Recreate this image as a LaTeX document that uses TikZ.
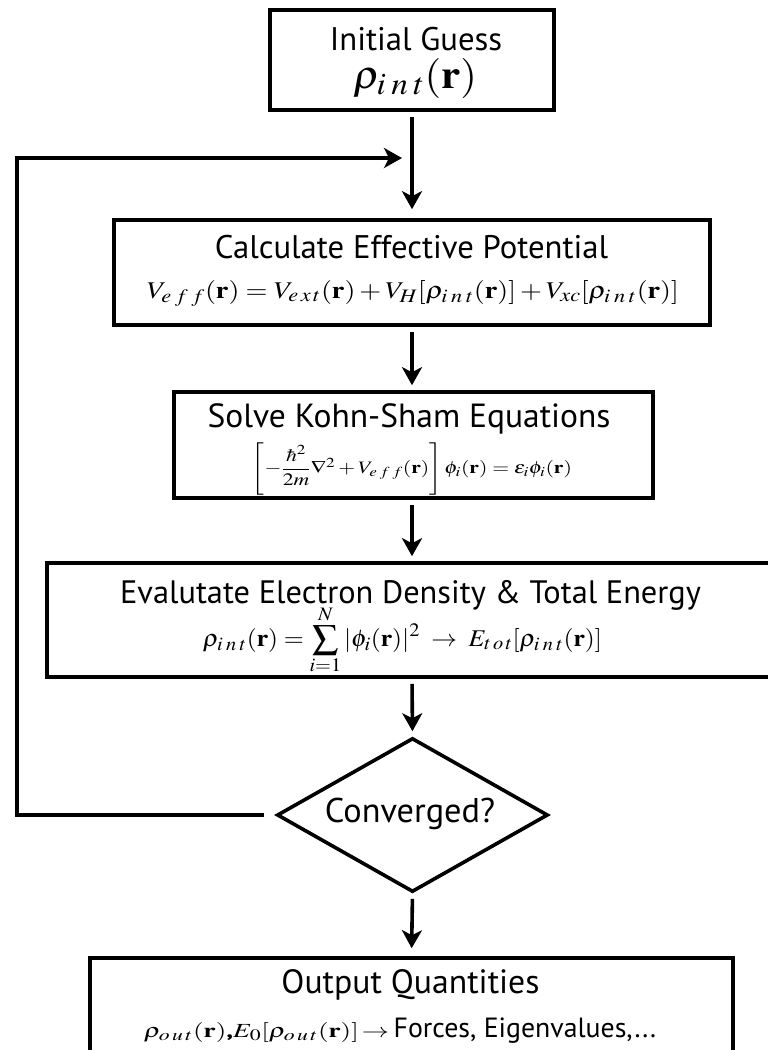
\documentclass[tikz,border=0pt]{standalone}
\usepackage{mathptmx}
\usepackage{amsmath}
\usepackage{graphicx}
\usepackage[no-math]{fontspec}
\setmainfont{PT Sans}
\DeclareMathSizes{40}{40}{31}{24}
\DeclareMathSizes{24}{24}{19}{14}
\DeclareMathSizes{20}{20}{16}{12}
\DeclareMathSizes{19}{19}{15}{12}
\usetikzlibrary{arrows.meta,shapes.geometric}
\tikzset{
  box/.style={draw=black, line width=3.6pt, inner sep=0pt, fill=none},
  decision/.style={draw=black, line width=3.6pt, diamond, inner sep=0pt},
  title/.style={anchor=base, inner sep=0pt},
  formula/.style={anchor=base, inner sep=0pt},
  flow/.style={line width=3.6pt, -{Stealth[length=18pt,width=20pt,inset=5pt]}},
  loopline/.style={line width=3.6pt},
}
\newcommand{\fsz}[1]{\fontsize{#1}{#1}\selectfont}
\newcommand{\sI}{i\mkern3mu n\mkern3mu t}
\newcommand{\sE}{e\mkern3mu f\mkern3mu f}
\newcommand{\sX}{e\mkern2mu x\mkern2mu t}
\newcommand{\sO}{o\mkern2mu u\mkern2mu t}
\newcommand{\sT}{t\mkern2mu o\mkern2mu t}
\begin{document}
\begin{tikzpicture}[x=1pt,y=-1pt]
\useasboundingbox (0,0) rectangle (768,1050);
\fill[white] (0,0) rectangle (768,1050);
% boxes
\node[box, minimum width=284pt, minimum height=100pt] (init) at (412,60) {};
\node[box, minimum width=596pt, minimum height=105pt] (calc) at (412,272.5) {};
\node[box, minimum width=479pt, minimum height=106pt] (ks) at (413.5,445) {};
\node[box, minimum width=730pt, minimum height=114pt] (eval) at (412,620) {};
\node[decision, minimum width=271pt, minimum height=154pt] (conv) at (412.5,815) {};
\node[box, minimum width=643pt, minimum height=160pt] (out) at (411.5,1038) {};
% texts
\node[title] (t1) at (416,50) {\fsz{32.7}Initial Guess};
\node[formula] (f1) at (415,88) {\fsz{40}\resizebox{124pt}{\height}{$\rho_{\sI}(\mathbf{r})$}};
\node[title] (t2) at (411.5,258) {\fsz{32.7}Calculate Effective Potential};
\node[formula] (f2) at (413,298) {\fsz{24}\resizebox{532pt}{\height}{$V_{\sE}(\mathbf{r}) = V_{\sX}(\mathbf{r}) + V_H[\rho_{\sI}(\mathbf{r})] + V_{xc}[\rho_{\sI}(\mathbf{r})]$}};
\node[title] (t3) at (409,427) {\fsz{33.5}Solve Kohn-Sham Equations};
\node[formula, anchor=center] (f3) at (412,469) {\fsz{19}\resizebox{320pt}{0.92\height}{$\left[-\dfrac{\hbar^2}{2m}\nabla^2 + V_{\sE}(\mathbf{r})\right]\phi_i(\mathbf{r}) = \epsilon_i\phi_i(\mathbf{r})$}};
\node[title] (t4) at (410.5,603) {\fsz{32.4}Evalutate Electron Density \& Total Energy};
\node[formula] (f4) at (402.5,646) {\fsz{24}\resizebox{399pt}{\height}{$\displaystyle\rho_{\sI}(\mathbf{r}) = \sum_{i=1}^{N}|\phi_i(\mathbf{r})|^2 \;\rightarrow\; E_{\sT}[\rho_{\sI}(\mathbf{r})]$}};
\node[title] (t5) at (410,822) {\fsz{34.3}Converged?};
\node[title] (t6) at (410.5,993) {\fsz{33.7}Output Quantities};
\node[formula] (f6) at (400,1037) {\fsz{20}\resizebox{245pt}{\height}{$\rho_{\sO}(\mathbf{r})$\textbf{,}$E_0[\rho_{\sO}(\mathbf{r})]\!\rightarrow$}\fsz{27.8}\,Forces, Eigenvalues,...};
% loop corner coordinates
\coordinate (lp1) at (17,815);
\coordinate (lp2) at (17,158);
\coordinate (lp3) at (412,158);
% connectors
\draw[flow, shorten <=5pt, shorten >=9pt] (init.south) -- (calc.north);
\draw[flow, shorten <=5pt, shorten >=5pt] (calc.south) -- (ks.north -| calc.south);
\draw[flow, shorten <=5pt, shorten >=5pt] (ks.south -| calc.south) -- (eval.north);
\draw[flow, shorten <=5pt, shorten >=5pt] (eval.south) -- (conv.north);
\draw[flow, shorten <=5pt, shorten >=8pt] (conv.south) -- (out.north);
\draw[loopline, -{Stealth[length=18pt,width=20pt,inset=5pt]}, shorten <=11pt, shorten >=10pt] (conv.west) -- (lp1) -- (lp2) -- (lp3);
\end{tikzpicture}
\end{document}
